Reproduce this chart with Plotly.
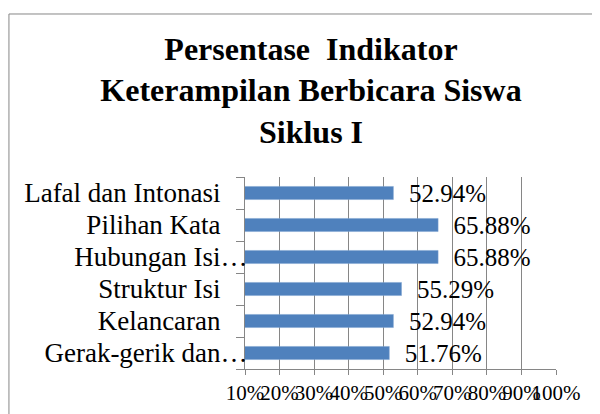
import plotly.graph_objects as go

PAD = "\u00a0\u00a0\u00a0\u00a0"
categories = ["Gerak-gerik dan…", "Kelancaran" + PAD, "Struktur Isi" + PAD, "Hubungan Isi…", "Pilihan Kata" + PAD, "Lafal dan Intonasi" + PAD]
values = [0.5176, 0.5294, 0.5529, 0.6588, 0.6588, 0.5294]
x_tickvals = [0.1, 0.2, 0.3, 0.4, 0.5, 0.6, 0.7, 0.8, 0.9, 1.0]
x_ticktext = ["10%", "20%", "30%", "40%", "50%", "60%", "70%", "80%", "90%", "100%"]
title_text = "Persentase\u00a0 Indikator<br>Keterampilan Berbicara Siswa<br>Siklus I"

FONT = "Liberation Serif, Times New Roman, serif"
GRAY = "#868686"

fig = go.Figure(go.Bar(
    y=categories, x=values, orientation="h",
    marker=dict(color="#4F81BD", line=dict(color="#7FA3D0", width=0.5)),
    texttemplate="\u00a0\u00a0%{x:.2%}", textposition="outside",
    constraintext="none",
    textfont=dict(family=FONT, size=25, color="black"),
    cliponaxis=False,
))

fig.update_layout(
    width=600, height=414,
    margin=dict(l=237, r=52, t=169, b=53, autoexpand=False),
    paper_bgcolor="white", plot_bgcolor="white",
    bargap=0.59,
    showlegend=False,
    title=dict(text=title_text, x=0.505, xanchor="center", y=0.875, yanchor="middle",
               font=dict(family=FONT, size=32, color="black", weight="bold")),
    font=dict(family=FONT, color="black"),
)
fig.update_xaxes(
    range=[0.1, 1.0], tickvals=x_tickvals, ticktext=x_ticktext, tickangle=0,
    showgrid=True, gridcolor=GRAY, gridwidth=1,
    showline=True, linecolor=GRAY, linewidth=1,
    ticks="outside", ticklen=5, tickcolor=GRAY,
    tickfont=dict(family=FONT, size=21, color="black"),
    zeroline=False, fixedrange=True, automargin=False,
)
fig.update_yaxes(
    type="category", tickson="boundaries",
    showline=True, linecolor=GRAY, linewidth=1,
    ticks="outside", ticklen=8, tickcolor=GRAY,
    tickfont=dict(family=FONT, size=27, color="black"),
    ticklabelstandoff=-9,
    showgrid=False, fixedrange=True, automargin=False,
)
fig.add_shape(type="rect", xref="paper", yref="paper",
              x0=-0.759, x1=1.16, y0=-0.27, y1=1.849,
              line=dict(color=GRAY, width=1), fillcolor="rgba(0,0,0,0)", layer="below")

fig.write_html("out.html")
